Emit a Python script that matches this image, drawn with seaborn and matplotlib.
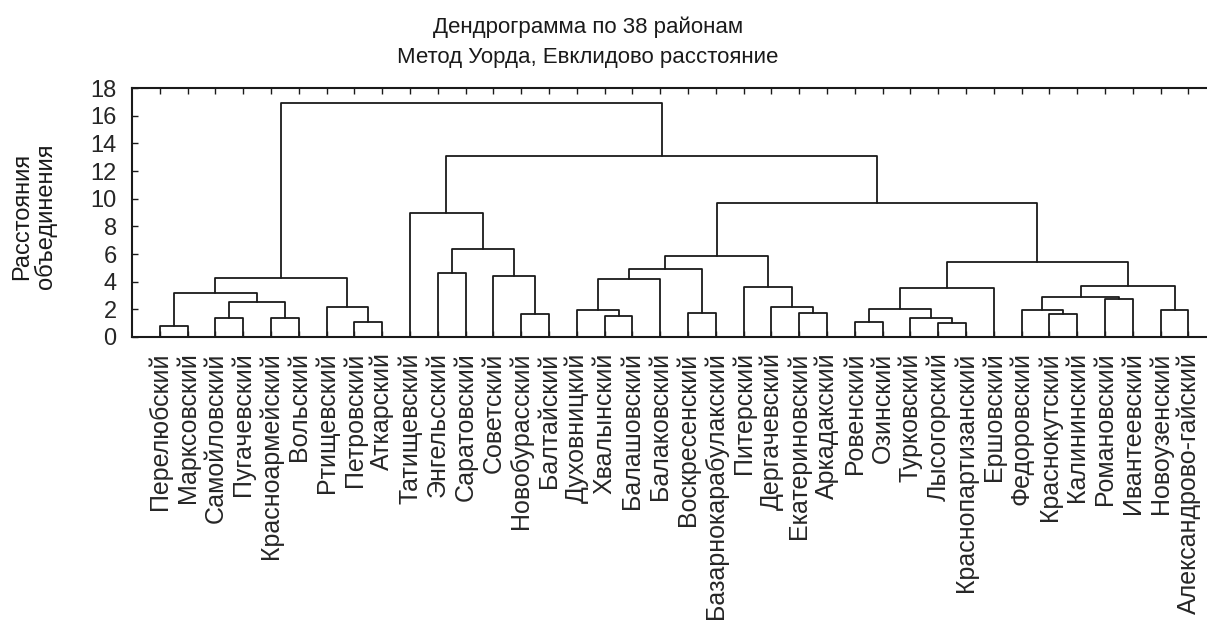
import matplotlib
matplotlib.use("Agg")
import matplotlib.pyplot as plt
import seaborn as sns
import pandas as pd

# Районы в порядке листьев дендрограммы
districts = [
    "Перелюбский", "Марксовский", "Самойловский", "Пугачевский",
    "Красноармейский", "Вольский", "Ртищевский", "Петровский", "Аткарский",
    "Татищевский", "Энгельсский", "Саратовский", "Советский",
    "Новобурасский", "Балтайский", "Духовницкий", "Хвалынский",
    "Балашовский", "Балаковский", "Воскресенский", "Базарнокарабулакский",
    "Питерский", "Дергачевский", "Екатериновский", "Аркадакский",
    "Ровенский", "Озинский", "Турковский", "Лысогорский",
    "Краснопартизанский", "Ершовский", "Федоровский", "Краснокутский",
    "Калининский", "Романовский", "Ивантеевский", "Новоузенский",
    "Александрово-гайский",
]

# Объединения: левый узел, правый узел (0..37 - районы, 38+ - кластеры)
merge_left = [0, 2, 4, 39, 38, 7, 6, 42, 10, 13, 12, 46, 9,
              16, 15, 52, 19, 53, 23, 22, 21, 55,
              25, 28, 27, 60, 63, 32, 31, 34, 66, 36, 68, 64, 59, 50, 45]
merge_right = [1, 3, 5, 40, 41, 8, 43, 44, 11, 14, 47, 48, 49,
               17, 51, 18, 20, 54, 24, 56, 57, 58,
               26, 29, 61, 62, 30, 33, 65, 35, 67, 37, 69, 70, 71, 72, 73]
merge_height = [0.82, 1.4, 1.4, 2.5, 3.16, 1.06, 2.15, 4.24, 4.6, 1.64, 4.41, 6.36, 9.0,
                1.54, 1.95, 4.19, 1.71, 4.92, 1.71, 2.15, 3.59, 5.85,
                1.1, 1.04, 1.35, 2.0, 3.52, 1.64, 1.95, 2.72, 2.87, 1.95, 3.71, 5.45,
                9.67, 13.1, 16.9]

# координаты узлов
node_x = {i: i + 1 for i in range(len(districts))}
node_h = {i: 0.0 for i in range(len(districts))}
rows = []
for k, (a, b, h) in enumerate(zip(merge_left, merge_right, merge_height)):
    nid = len(districts) + k
    xa, xb = node_x[a], node_x[b]
    for px, py in [(xa, node_h[a]), (xa, h), (xb, h), (xb, node_h[b])]:
        rows.append({"link": k, "x": px, "y": py})
    node_x[nid] = (xa + xb) / 2
    node_h[nid] = h
segments = pd.DataFrame(rows)

sns.set_theme(style="white")
plt.rcParams['font.family'] = ['Liberation Sans', 'DejaVu Sans']

fig = plt.figure(figsize=(12.07, 6.22), dpi=100)
ax = fig.add_axes([132 / 1207, 0.4582, 39.5 * 27.8 / 1207, 0.4003])

sns.lineplot(data=segments, x="x", y="y", units="link", estimator=None,
             sort=False, color="#1a1a1a", linewidth=1.3, ax=ax, legend=False)

ax.set_xlim(0, 39.5)
ax.set_ylim(0, 18)
ax.set_yticks(range(0, 19, 2))
ax.set_xticks(range(1, len(districts) + 1))
ax.set_xticklabels(districts, rotation=90, va="top", ha="center", fontsize=18)
ax.tick_params(axis="x", bottom=True, top=True, direction="in", length=4,
               width=1, color="#1a1a1a", pad=11)
ax.tick_params(axis="y", left=True, direction="in", length=4, width=1,
               color="#1a1a1a", labelsize=17, pad=11)
ax.set_xlabel("")
ax.set_ylabel("")
for sp in ax.spines.values():
    sp.set_color("#1a1a1a")
    sp.set_linewidth(1.5)

fig.text(588 / 1207, 1 - 33 / 622, "Дендрограмма по 38 районам",
         ha="center", va="baseline", fontsize=16, color="#1a1a1a")
fig.text(588 / 1207, 1 - 63 / 622, "Метод Уорда, Евклидово расстояние",
         ha="center", va="baseline", fontsize=16, color="#1a1a1a")
fig.text(34 / 1207, 1 - 216 / 622, "Расстояния\nобъединения", rotation=90,
         ha="center", va="center", fontsize=17, linespacing=1.05,
         color="#1a1a1a")

fig.savefig("out.png", dpi=100)
